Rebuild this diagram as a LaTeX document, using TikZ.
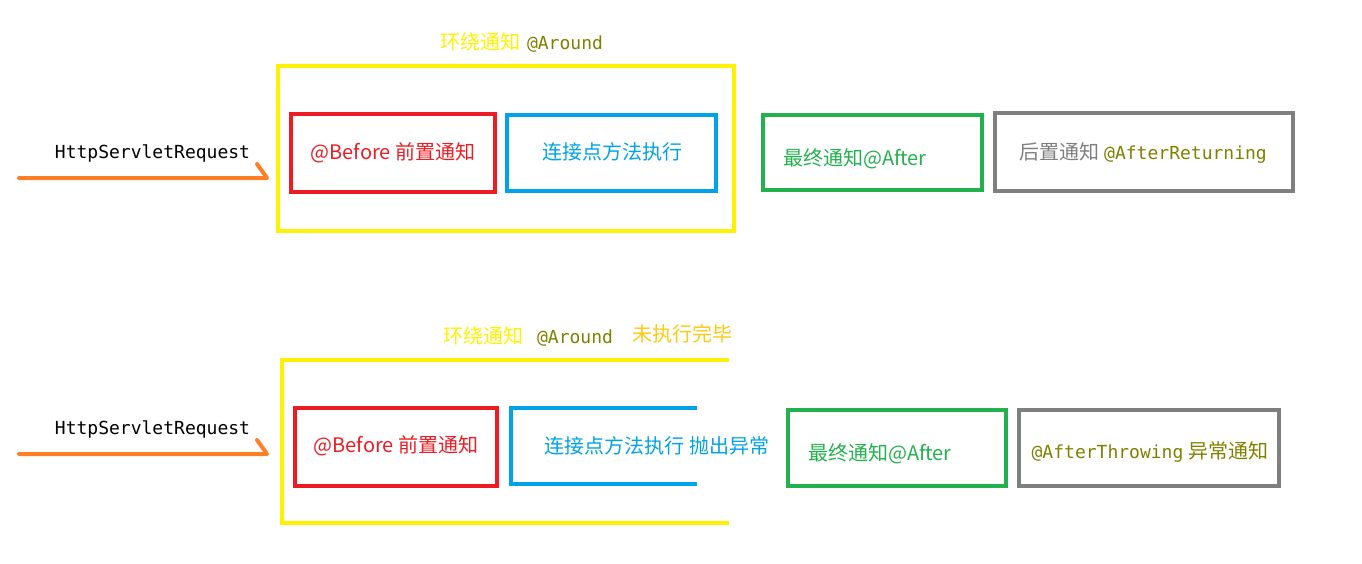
\documentclass[tikz,border=0pt]{standalone}
\usepackage{fontspec}
\setmainfont{Noto Sans CJK SC}
\newfontfamily\codefont{DejaVu Sans Mono}
\definecolor{cyel}{HTML}{FFF200}
\definecolor{cgold}{HTML}{FFC90E}
\definecolor{cred}{HTML}{ED1C24}
\definecolor{cblue}{HTML}{00A2E8}
\definecolor{cgreen}{HTML}{22B14C}
\definecolor{cgray}{HTML}{7F7F7F}
\definecolor{corange}{HTML}{FF7F27}
\definecolor{colive}{HTML}{808000}
\newcommand{\cjkbig}{\fontsize{20pt}{24pt}\selectfont}
\newcommand{\codebig}{\codefont\fontsize{18pt}{22pt}\selectfont}
\begin{document}
\begin{tikzpicture}[x=1pt,y=-1pt,
  box/.style={draw=#1, line width=4.5pt, inner sep=0pt, text=#1, font=\cjkbig},
  lbl/.style={inner sep=0pt, font=\cjkbig, text=#1},
  code/.style={inner sep=0pt, font=\codebig, text=#1},
  openline/.style={draw=#1, line width=4.5pt, line join=miter},
  reqarrow/.style={draw=corange, line width=4pt, line cap=round, line join=round}]
\useasboundingbox (0,0) rectangle (1362,563);

% ---------- top row ----------
\node[box=cyel, minimum width=456pt, minimum height=165pt] (around1) at (506,148.5) {};
\node[lbl=cyel, anchor=base] (t1a) at (480,49) {环绕通知};
\node[code=colive, anchor=base] (t1b) at (565,49) {@Around};

\node[code=black, anchor=base] (req1) at (152.5,158) {HttpServletRequest};
\coordinate (a1s) at (19,178);
\coordinate (a1e) at (267,178);
\coordinate (a1h) at (257,164);
\draw[reqarrow] (a1s) -- (a1e) -- (a1h);

\node[box=cred, minimum width=204pt, minimum height=78pt] (before1) at (393,153) {};
\node[lbl=cred, anchor=base] (before1t) at (393,159) {@Before 前置通知};

\node[box=cblue, minimum width=209pt, minimum height=76pt] (join1) at (611.5,153) {};
\node[lbl=cblue, anchor=base] (join1t) at (612,159) {连接点方法执行};

\node[box=cgreen, minimum width=219pt, minimum height=75pt] (after1) at (872.5,152.5) {};
\node[lbl=cgreen, anchor=base] (after1t) at (855,165) {最终通知@After};

\node[box=cgray, minimum width=298pt, minimum height=78pt] (ret1) at (1144,152) {};
\node[anchor=base, inner sep=0pt] (ret1t) at (1143,159) {{\cjkbig\color{cgray}后置通知}\hspace{5pt}{\codebig\color{colive}@AfterReturning}};

% ---------- bottom row ----------
\node[lbl=cyel, anchor=base] (t2a) at (483,343) {环绕通知};
\node[code=colive, anchor=base] (t2b) at (575,343) {@Around};
\node[lbl=cgold, anchor=base] (t2c) at (682,341) {未执行完毕};

\coordinate (y2a) at (729,360);
\coordinate (y2b) at (282,360);
\coordinate (y2c) at (282,523);
\coordinate (y2d) at (729,523);
\draw[openline=cyel] (y2a) -- (y2b) -- (y2c) -- (y2d);

\node[code=black, anchor=base] (req2) at (152.5,434) {HttpServletRequest};
\coordinate (a2s) at (19,454);
\coordinate (a2e) at (267,454);
\coordinate (a2h) at (257,440);
\draw[reqarrow] (a2s) -- (a2e) -- (a2h);

\node[box=cred, minimum width=202pt, minimum height=78pt] (before2) at (396,447) {};
\node[lbl=cred, anchor=base] (before2t) at (396,452) {@Before 前置通知};

\coordinate (b2a) at (697,408);
\coordinate (b2b) at (511,408);
\coordinate (b2c) at (511,484);
\coordinate (b2d) at (697,484);
\draw[openline=cblue] (b2a) -- (b2b) -- (b2c) -- (b2d);
\node[lbl=cblue, anchor=base] (join2t) at (657,453) {连接点方法执行 抛出异常};

\node[box=cgreen, minimum width=218pt, minimum height=76pt] (after2) at (897,448) {};
\node[lbl=cgreen, anchor=base] (after2t) at (880,460) {最终通知@After};

\node[box=cgray, minimum width=260pt, minimum height=76pt] (thr2) at (1149,448) {};
\node[anchor=base, inner sep=0pt, text=colive] (thr2t) at (1150,458) {{\codebig @AfterThrowing}\hspace{5pt}{\cjkbig 异常通知}};
\end{tikzpicture}
\end{document}
